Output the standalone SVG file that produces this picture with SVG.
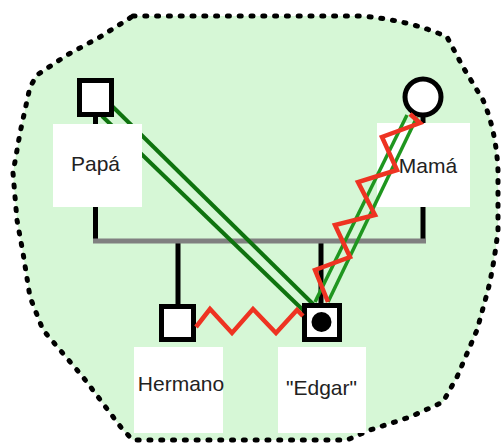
<svg xmlns="http://www.w3.org/2000/svg" width="501" height="443" viewBox="0 0 501 443">
<defs>
<style>
.blob{fill:#d6f7d6;stroke:#000;stroke-width:5;stroke-dasharray:2 9.8;stroke-linecap:round;stroke-linejoin:round}
.box{fill:#fff;stroke:none}
.lbl{font-family:"Liberation Sans",Arial,sans-serif;font-size:21px;fill:#222;text-anchor:middle}
.sym{fill:#fff;stroke:#000;stroke-width:5}
.line{stroke:#000;stroke-width:5;fill:none}
.sib{stroke:#808080;stroke-width:5;fill:none}
.gp{stroke:#0f730f;stroke-width:4;fill:none}
.gm{stroke:#1f961f;stroke-width:3.5;fill:none}
.red{stroke:#ee3322;stroke-width:4.5;fill:none;stroke-linejoin:miter}
</style>
</defs>
<path class="blob" d="M133,16 L360,16 Q410,20 447,37 L463,67 L483,100 Q496,130 498,170 L498,230 Q494,265 488,290 L477,330 L457,377 L443,402 L410,417 L370,430 L347,440 L133,440 L123,430 L83,377 L43,330 L30,297 L23,253 L17,220 L13,173 L20,133 L30,87 L37,75 L67,55 L100,37 Z"/>
<g id="connectors-back">
<line class="line" x1="95.5" y1="114" x2="95.5" y2="241"/>
<line class="line" x1="423" y1="114" x2="423" y2="241"/>
<line class="line" x1="178" y1="241" x2="178" y2="307"/>
<line class="line" x1="321" y1="241" x2="321" y2="305"/>
<line class="sib" x1="93" y1="241" x2="426" y2="241"/>
<line class="gp" x1="112" y1="106" x2="314" y2="305"/>
<line class="gp" x1="102" y1="116" x2="304" y2="311"/>
</g>
<g id="papa">
<rect class="sym" x="79.5" y="80.5" width="32" height="34"/>
<rect class="box" x="53" y="124" width="89" height="83"/>
<text class="lbl" x="95.5" y="171">Papá</text>
</g>
<g id="mama">
<circle class="sym" cx="423" cy="97" r="18"/>
<rect class="box" x="377" y="123" width="93" height="84"/>
<text class="lbl" x="428" y="173">Mamá</text>
</g>
<g id="hermano">
<rect class="sym" x="161.5" y="306.5" width="32" height="33"/>
<rect class="box" x="134" y="347" width="89" height="86"/>
<text class="lbl" x="181" y="391">Hermano</text>
</g>
<g id="edgar">
<rect class="sym" x="304.5" y="305.5" width="35" height="34"/>
<circle cx="321.5" cy="322" r="10" fill="#000"/>
<rect class="box" x="278" y="347" width="88" height="86"/>
<text class="lbl" x="321.5" y="395">"Edgar"</text>
</g>
<g id="connectors-front">
<line class="gm" x1="407" y1="115" x2="315" y2="302"/>
<line class="gm" x1="417" y1="117" x2="328" y2="302"/>
<polyline class="red" points="410,114 420,123 382,137 397,170 358,182 375,215 335,225 350,257 315,270 328,302"/>
<polyline class="red" points="196,327 210,309 232,333 253,309 276,333 297,310 303,316"/>
</g>
</svg>
